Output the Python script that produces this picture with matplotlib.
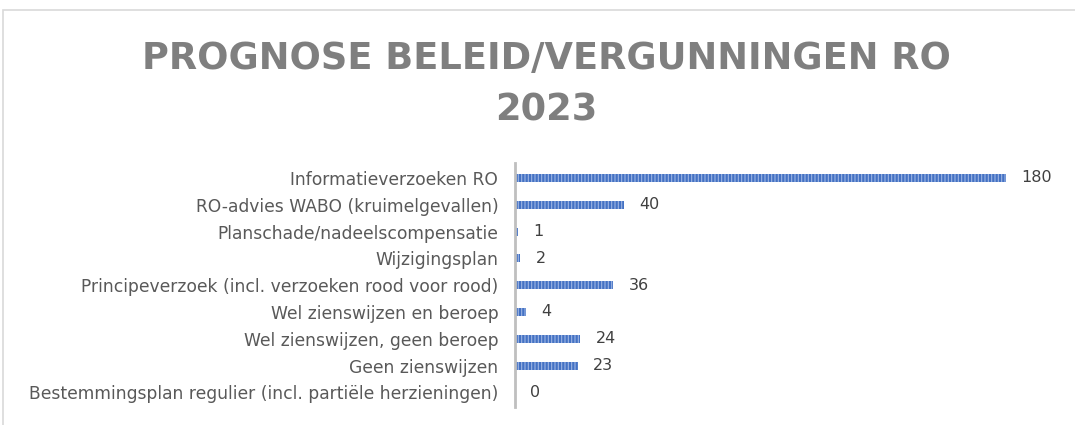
import matplotlib.pyplot as plt
from matplotlib.patches import Rectangle

plt.rcParams["hatch.linewidth"] = 0.8

categories = [
    "Informatieverzoeken RO",
    "RO-advies WABO (kruimelgevallen)",
    "Planschade/nadeelscompensatie",
    "Wijzigingsplan",
    "Principeverzoek (incl. verzoeken rood voor rood)",
    "Wel zienswijzen en beroep",
    "Wel zienswijzen, geen beroep",
    "Geen zienswijzen",
    "Bestemmingsplan regulier (incl. partiële herzieningen)",
]
values = [180, 40, 1, 2, 36, 4, 24, 23, 0]

TEXT = "#595959"
BLUE = "#4472C4"

fig = plt.figure(figsize=(10.75, 4.25), dpi=100)
fig.patches.append(Rectangle((0.003, -0.01), 1.2, 0.987, transform=fig.transFigure,
                             fill=False, edgecolor="#d9d9d9", linewidth=1.2))

ax = fig.add_axes([0.479, 0.042, 0.508, 0.574])
y = list(range(len(categories)))
bars = ax.barh(y, values, height=0.3, color=BLUE, edgecolor="#9db5e3",
               linewidth=0, hatch="|||||")
ax.set_ylim(len(categories) - 0.45, -0.55)
ax.set_xlim(0, 200)
ax.set_yticks(y, categories)
ax.tick_params(axis="y", length=0, pad=12, labelsize=12.3, labelcolor=TEXT)
ax.set_xticks([])
for s in ["top", "right", "bottom"]:
    ax.spines[s].set_visible(False)
ax.spines["left"].set_color("#bfbfbf")
ax.spines["left"].set_linewidth(2)

for rect, v in zip(bars, values):
    ax.annotate(str(v), xy=(rect.get_width(), rect.get_y() + rect.get_height() / 2),
                xytext=(11, 0), textcoords="offset points", ha="left", va="center",
                fontsize=11.5, color="#404040")

fig.text(0.508, 0.862, "PROGNOSE BELEID/VERGUNNINGEN RO", ha="center", va="center",
         fontsize=26.5, fontweight="bold", color="#7f7f7f")
fig.text(0.508, 0.742, "2023", ha="center", va="center",
         fontsize=26.5, fontweight="bold", color="#7f7f7f")

fig.savefig("out.png", dpi=100)
